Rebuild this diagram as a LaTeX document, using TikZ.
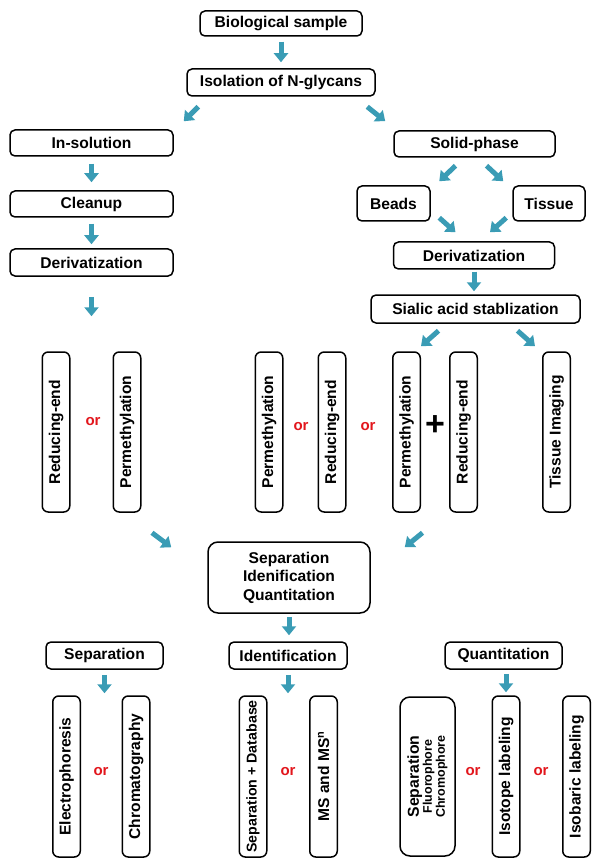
\documentclass[tikz,border=0pt]{standalone}
\usepackage{fontspec}
\setmainfont{Liberation Sans}
\usepackage{tikz}
\usetikzlibrary{arrows.meta}
\definecolor{flowteal}{RGB}{58,156,181}
\definecolor{orred}{RGB}{226,22,28}
\tikzset{
  box/.style={draw, line width=1.5pt, rounded corners=5pt, inner sep=0pt,
              font=\bfseries\fontsize{15.6}{18.5}\selectfont},
  vbox/.style={box, rotate=90, rounded corners=6pt, minimum height=27.5pt},
  flow/.style={draw=flowteal, line width=5pt, -{Triangle[width=14pt,length=9pt]}},
  alt/.style={text=orred, inner sep=0pt, font=\bfseries\fontsize{15}{15}\selectfont},
}
\begin{document}
\begin{tikzpicture}[x=1pt,y=-1pt]
\useasboundingbox (0,0) rectangle (595,866);

\draw (281, 23.5) node[box, minimum width=162pt, minimum height=25pt] (bio) {Biological sample};
\draw (281, 82.5) node[box, minimum width=188pt, minimum height=27pt] (iso) {Isolation of N-glycans};
\draw (91.5, 143) node[box, minimum width=163pt, minimum height=26pt] (insol) {In-solution};
\draw (474.5, 144) node[box, minimum width=161pt, minimum height=26pt] (solid) {Solid-phase};
\draw (91.5, 204) node[box, minimum width=163pt, minimum height=26pt] (clean) {Cleanup};
\draw (393.5, 203.5) node[box, minimum width=73pt, minimum height=35pt] (beads) {Beads};
\draw (549, 203.5) node[box, minimum width=72pt, minimum height=35pt] (tissue) {Tissue};
\draw (91.5, 262.5) node[box, minimum width=163pt, minimum height=27pt] (derivL) {Derivatization};
\draw (474, 255.5) node[box, minimum width=161pt, minimum height=27pt] (derivR) {Derivatization};
\draw (475.5, 309) node[box, minimum width=209pt, minimum height=28pt] (sialic) {Sialic acid stablization};

\draw (56, 432) node[vbox, minimum width=160pt] (redL) {Reducing-end};
\draw (127, 432) node[vbox, minimum width=160pt] (permL) {Permethylation};
\draw (269, 432) node[vbox, minimum width=160pt] (permB) {Permethylation};
\draw (332, 432) node[vbox, minimum width=160pt] (redB) {Reducing-end};
\draw (406.5, 432) node[vbox, minimum width=160pt] (permC) {Permethylation};
\draw (463.5, 432) node[vbox, minimum width=160pt] (redC) {Reducing-end};
\draw (556.5, 432) node[vbox, minimum width=160pt] (imaging) {Tissue Imaging};
\draw (93, 422) node[alt] (orA) {or};
\draw (301, 427) node[alt] (orB) {or};
\draw (368, 427) node[alt] (orC) {or};
\draw (435, 426) node[inner sep=0pt, font=\bfseries\fontsize{34}{34}\selectfont] (plus) {+};

\draw (289, 577.5) node[box, minimum width=162pt, minimum height=71pt, rounded corners=10pt,
       align=center] (sepbox) {Separation\\Idenification\\Quantitation};

\draw (104.5, 655.5) node[box, minimum width=117pt, minimum height=27pt] (sepH) {Separation};
\draw (288, 655.5) node[box, minimum width=118pt, minimum height=27pt] (ident) {Identification};
\draw (503.5, 655.5) node[box, minimum width=117pt, minimum height=27pt] (quant) {Quantitation};

\draw (66.5, 776.5) node[vbox, minimum width=161pt] (electro) {Electrophoresis};
\draw (136, 776.5) node[vbox, minimum width=161pt] (chrom) {Chromatography};
\draw (253, 776.5) node[vbox, minimum width=161pt, font=\bfseries\fontsize{14.2}{16}\selectfont] (sepdb) {Separation + Database};
\draw (323.5, 776.5) node[vbox, minimum width=161pt] (msn) {MS and MS\textsuperscript{n}};
\draw (427.5, 776.5) node[vbox, minimum width=159pt, minimum height=55pt, rounded corners=10pt, align=center,
       font=\bfseries\fontsize{12.5}{13}\selectfont] (wide) {{\fontsize{15.8}{17}\selectfont Separation}\\Fluorophore\\Chromophore};
\draw (506, 776.5) node[vbox, minimum width=161pt] (isotope) {Isotope labeling};
\draw (576.5, 776.5) node[vbox, minimum width=161pt] (isobaric) {Isobaric labeling};
\draw (101, 772) node[alt] (orD) {or};
\draw (288, 772) node[alt] (orE) {or};
\draw (473, 772) node[alt] (orF) {or};
\draw (541, 772) node[alt] (orG) {or};

\draw[flow, shorten <=5pt, shorten >=6pt] (bio.south) -- (iso.north);
\draw[flow] ([shift={(12,10)}]iso.south west) -- ([shift={(10,-8)}]insol.north east);
\draw[flow] ([shift={(-8.5,10)}]iso.south east) -- ([shift={(-8,-9)}]solid.north west);
\draw[flow, shorten <=7pt, shorten >=8pt] (insol.south) -- (clean.north);
\draw[flow] ([shift={(-19,8)}]solid.south) -- ([shift={(8.5,-4)}]beads.north east);
\draw[flow] ([shift={(12,8)}]solid.south) -- ([shift={(-9,-4)}]tissue.north west);
\draw[flow, shorten <=6pt, shorten >=4pt] (clean.south) -- (derivL.north);
\draw[flow] ([shift={(8.5,-4)}]beads.south east) -- ([shift={(-18.5,-9)}]derivR.north);
\draw[flow] ([shift={(-6,-4)}]tissue.south west) -- ([shift={(16,-9)}]derivR.north);
\draw[flow, shorten <=2pt, shorten >=3pt] (derivR.south) -- (derivR.south |- sialic.north);
\draw[flow, shorten <=20pt, shorten >=35pt] (derivL.south) -- (derivL.south |- redL.east);
\draw[flow] ([shift={(-37,7)}]sialic.south) -- ([shift={(14.5,-5)}]permC.east);
\draw[flow] ([shift={(42,7)}]sialic.south) -- ([shift={(-21.5,-5)}]imaging.east);
\draw[flow] ([shift={(25,20)}]permL.west) -- ([shift={(-36,6)}]sepbox.north west);
\draw[flow] ([shift={(16,20)}]permC.west) -- ([shift={(34,6)}]sepbox.north east);
\draw[flow, shorten <=3pt, shorten >=6pt] (sepbox.south) -- (sepbox.south |- ident.north);
\draw[flow, shorten <=5pt, shorten >=2pt] (sepH.south) -- (sepH.south |- electro.east);
\draw[flow, shorten <=5pt, shorten >=2pt] (ident.south) -- (ident.south |- sepdb.east);
\draw[flow, shorten <=4pt, shorten >=3pt] (quant.south -| isotope.center) -- (isotope.east);
\end{tikzpicture}
\end{document}
